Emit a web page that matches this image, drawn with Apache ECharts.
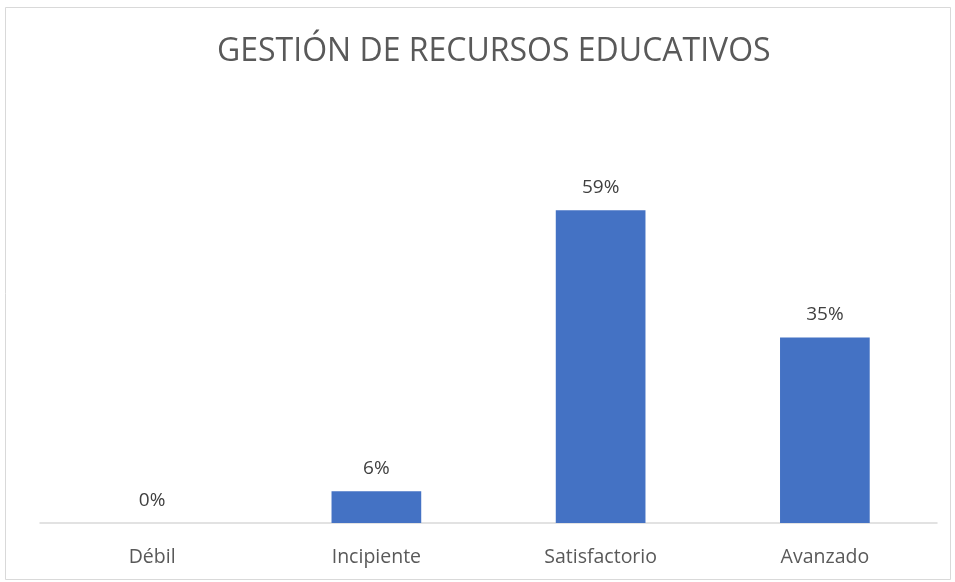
<!DOCTYPE html>
<html>
<head>
<meta charset="utf-8">
<script src="https://cdn.jsdelivr.net/npm/echarts@6/dist/echarts.min.js"></script>
<style>
  html, body { margin: 0; padding: 0; background: #fff; }
  #chart { width: 955px; height: 582px; }
</style>
</head>
<body>
<div id="chart"></div>
<script>
const categories = ['Débil', 'Incipiente', 'Satisfactorio', 'Avanzado'];
const percentages = [0, 6, 59, 35];

const chart = echarts.init(document.getElementById('chart'));

const option = {
  backgroundColor: '#fff',
  title: {
    text: 'GESTIÓN DE RECURSOS EDUCATIVOS',
    left: 212,
    top: 31,
    textStyle: {
      fontFamily: 'Open Sans',
      fontWeight: 'normal',
      fontSize: 32,
      color: '#595959'
    }
  },
  graphic: [{
    type: 'rect',
    shape: { x: 5.5, y: 7.5, width: 945, height: 572 },
    style: { fill: 'none', stroke: '#d9d9d9', lineWidth: 1 },
    silent: true
  }],
  grid: { left: 40, right: 18, top: 152, bottom: 59 },
  xAxis: {
    type: 'category',
    data: categories,
    axisLine: { lineStyle: { color: '#d9d9d9', width: 1.5 } },
    axisTick: { show: false },
    axisLabel: {
      margin: 24,
      fontFamily: 'Open Sans',
      fontSize: 19.5,
      color: '#595959'
    }
  },
  yAxis: {
    type: 'value',
    min: 0,
    max: 70,
    show: false,
    splitLine: { show: false }
  },
  series: [{
    type: 'bar',
    data: percentages,
    barWidth: '40%',
    itemStyle: { color: '#4472c4' },
    label: {
      show: true,
      position: 'top',
      distance: 13,
      formatter: p => p.value + '%',
      fontFamily: 'Open Sans',
      fontSize: 19,
      color: '#404040'
    }
  }]
};

chart.setOption(option);
</script>
</body>
</html>
